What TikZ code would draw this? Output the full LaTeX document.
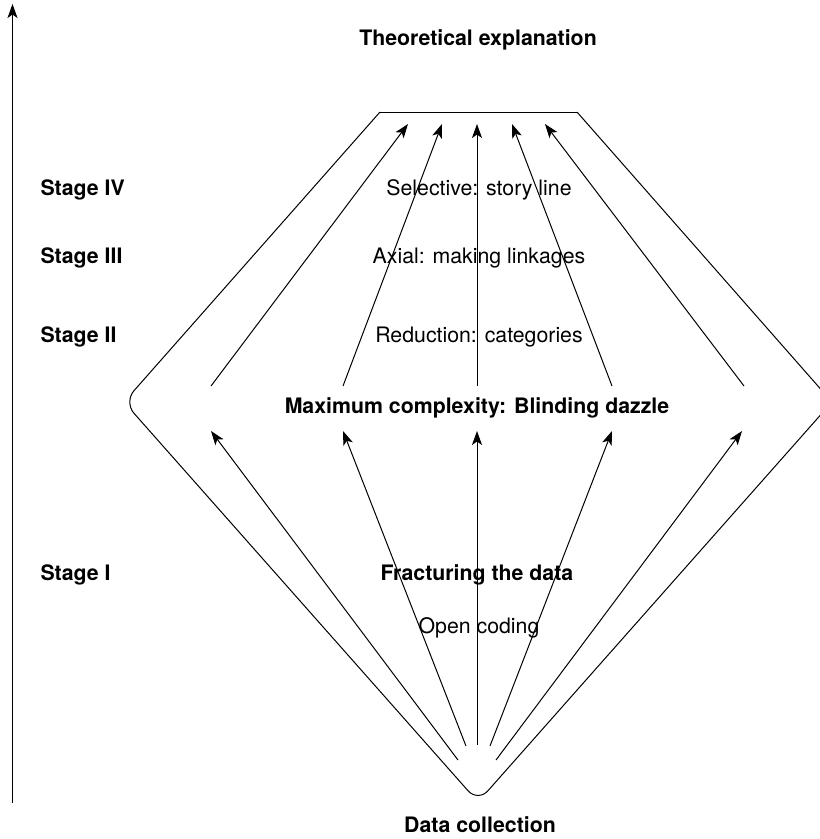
\documentclass[tikz,border=0pt]{standalone}
\usepackage{fontspec}
\setmainfont{TeX Gyre Heros}
\usetikzlibrary{arrows.meta}
\begin{document}
\begin{tikzpicture}[x=1pt,y=-1pt,
  line width=1pt,
  fanarrow/.style={-{Stealth[length=14pt,width=10pt,inset=3.5pt]}},
  lbl/.style={font=\fontsize{21.3}{24}\selectfont, inner sep=0pt},
  blbl/.style={font=\fontsize{21.3}{24}\selectfont\bfseries, inner sep=0pt}]
\useasboundingbox (0,0) rectangle (820,839);
\clip (0,0) rectangle (820,839);
% axis
\coordinate (ax0) at (12.5,803);
\coordinate (ax1) at (12.5,4);
\draw[-{Stealth[length=14pt,width=10pt,inset=3.5pt]}] (ax0) -- (ax1);
% diamond outline
\coordinate (tl) at (380,112);
\coordinate (tr) at (577,112);
\coordinate (L) at (124,402);
\coordinate (R) at (832,402);
\coordinate (B) at (478,802);
\draw (tl) -- (tr);
\draw[rounded corners=15pt] (tl) -- (L) -- (B) -- (R) -- (tr);
% upper fan
\foreach \i/\xs/\xt in {1/211/408, 2/343/442, 3/477/477, 4/612/512, 5/744/545}{
  \coordinate (us\i) at (\xs,386);
  \coordinate (ut\i) at (\xt,124);
  \draw[fanarrow] (us\i) -- (ut\i);
}
% lower fan
\foreach \i/\xs/\ys/\xt in {1/458/760/211, 2/466/746/343, 3/477/745/477, 4/490/746/612, 5/496/760/742}{
  \coordinate (ls\i) at (\xs,\ys);
  \coordinate (lt\i) at (\xt,431);
  \draw[fanarrow] (ls\i) -- (lt\i);
}
% texts
\node[blbl] (theo) at (478,40) {Theoretical explanation};
\node[blbl, anchor=west] (s4) at (40,190) {Stage IV};
\node[blbl, anchor=west] (s3) at (40,258) {Stage III};
\node[blbl, anchor=west] (s2) at (40,337) {Stage II};
\node[blbl, anchor=west] (s1) at (40,575) {Stage I};
\node[lbl] (sel) at (479,190) {Selective: story line};
\node[lbl] (axl) at (479,258) {Axial: making linkages};
\node[lbl] (red) at (479,337) {Reduction: categories};
\node[blbl] (max) at (477,408) {Maximum complexity: Blinding dazzle};
\node[blbl] (frac) at (477,575) {Fracturing the data};
\node[lbl] (open) at (479,628) {Open coding};
\node[blbl] (data) at (480,825) {Data collection};
\end{tikzpicture}
\end{document}
